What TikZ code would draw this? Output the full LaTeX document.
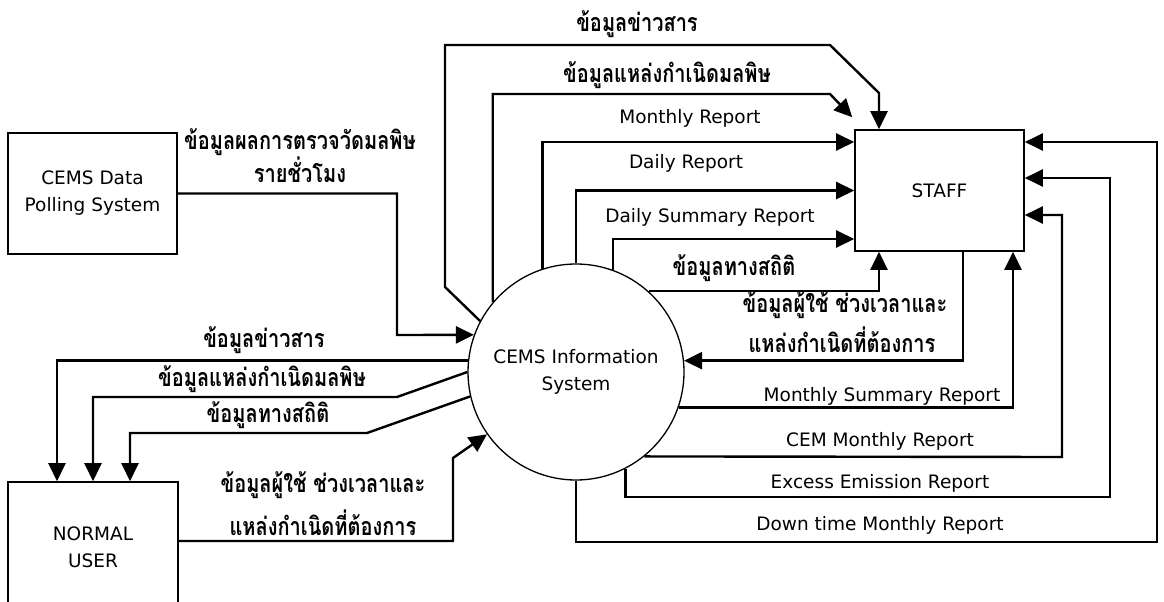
\documentclass[tikz,border=0pt]{standalone}
\usepackage{fontspec}
\setmainfont{DejaVu Sans}
\newfontfamily\thaifam[Script=Thai,FakeStretch=0.8]{Loma}
\usetikzlibrary{arrows.meta,calc}
\newcommand\enf{\fontsize{18.5}{27}\selectfont}
\newcommand\thf{\thaifam\bfseries\fontsize{25}{30}\selectfont}
\begin{document}
\begin{tikzpicture}[x=1pt,y=-1pt,
  flow/.style={line width=2.4pt,-{Triangle[length=18pt,width=17pt]}},
  entity/.style={draw,line width=1.6pt,minimum width=169pt,minimum height=121pt,inner sep=0pt,align=center,font=\enf},
  proc/.style={draw,circle,line width=1.3pt,minimum size=216pt,inner sep=0pt,align=center,font=\enf},
  en/.style={font=\enf,inner sep=0pt},
  th/.style={font=\thf,inner sep=0pt}]
\useasboundingbox[fill=white] (0,0) rectangle (1164,602);

\node[entity] (poll) at (92.5,193.5) {CEMS Data\\Polling System};
\node[entity] (staff) at (939.5,190.5) {STAFF};
\node[entity,minimum width=170pt,minimum height=130pt] (user) at (93,547) {NORMAL\\USER};
\node[proc] (c) at (576,372) {CEMS Information\\System};

% polling -> system
\draw[flow] (poll.east) -| (397,335) -- (c.160);
\node[th] (lp1) at (300,142) {ข้อมูลผลการตรวจวัดมลพิษ};
\node[th] (lp2) at (300,170) {รายชั่วโมง};

% system -> staff (top)
\draw[flow] (c.152.5) -- (445,287) -- (445,45) -- (830,45) -- (879,93) -- ([xshift=-60.5pt]staff.north);
\draw[flow] (c.140) |- (830,94) -- ([xshift=-2pt,yshift=12pt]staff.north west);
\draw[flow] (c.108.4) |- ([yshift=48.5pt]staff.west);
\draw[flow] (c.90) |- (staff.west);
\draw[flow] (c.70) |- ([yshift=-48.5pt]staff.west);
\draw[flow] (c.48) -| ([xshift=-60.5pt]staff.south);
\node[th] (t1) at (637,24) {ข้อมูลข่าวสาร};
\node[th] (t2) at (667,75) {ข้อมูลแหล่งกำเนิดมลพิษ};
\node[en] (t3) at (690,118) {Monthly Report};
\node[en] (t4) at (686,163) {Daily Report};
\node[en] (t5) at (710,217) {Daily Summary Report};
\node[th] (t6) at (734,268) {ข้อมูลทางสถิติ};

% staff -> system
\draw[flow] ([xshift=23.5pt]staff.south) |- (c.6.4);
\node[th] (r1) at (845,305) {ข้อมูลผู้ใช้ ช่วงเวลาและ};
\node[th] (r2) at (842,340) {แหล่งกำเนิดที่ต้องการ};

% system -> staff (bottom/right)
\draw[flow] (c.-19.5) -| ([xshift=73.5pt]staff.south);
\draw[flow] (c.-51.9) -- (1062,457) |- ([yshift=-24.5pt]staff.east);
\draw[flow] (c.-63) |- (1110,497) |- ([yshift=12.5pt]staff.east);
\draw[flow] (c.-90) |- (1157,542) |- ([yshift=48.5pt]staff.east);
\node[en] (b1) at (882,396) {Monthly Summary Report};
\node[en] (b2) at (880,441) {CEM Monthly Report};
\node[en] (b3) at (880,483) {Excess Emission Report};
\node[en] (b4) at (880,525) {Down time Monthly Report};

% system -> user
\draw[flow] (c.174.2) -| ([xshift=-36pt]user.north);
\draw[flow] (c.180) -- (397,397) -| (user.north);
\draw[flow] (c.193.4) -- (367,433) -| ([xshift=37pt]user.north);
\node[th] (u1) at (264,340) {ข้อมูลข่าวสาร};
\node[th] (u2) at (262,379) {ข้อมูลแหล่งกำเนิดมลพิษ};
\node[th] (u3) at (268,415) {ข้อมูลทางสถิติ};

% user -> system
\draw[flow] ([yshift=6pt]user.east) -| (453,458) -- (c.215.6);
\node[th] (u4) at (323,485) {ข้อมูลผู้ใช้ ช่วงเวลาและ};
\node[th] (u5) at (323,523) {แหล่งกำเนิดที่ต้องการ};
\end{tikzpicture}
\end{document}
